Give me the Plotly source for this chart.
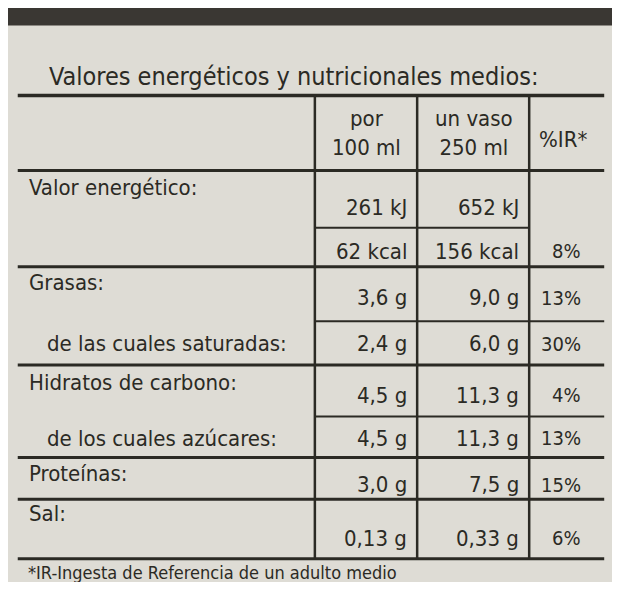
import plotly.graph_objects as go

title = "Valores energéticos y nutricionales medios:"
headers = [("por<br>100 ml", 368, 128), ("un vaso<br>250 ml", 478, 128), ("%IR*", 570, 135)]
labels = [("Valor energético:", 185), ("Grasas:", 282), ("de las cuales saturadas:", 345),
          ("Hidratos de carbono:", 385), ("de los cuales azúcares:", 442),
          ("Proteínas:", 478), ("Sal:", 520)]
label_x = [20, 20, 38, 20, 38, 20, 20]
row_y = [205, 250, 298, 345, 398, 442, 490, 545]
per100 = ["261 kJ", "62 kcal", "3,6 g", "2,4 g", "4,5 g", "4,5 g", "3,0 g", "0,13 g"]
vaso = ["652 kJ", "156 kcal", "9,0 g", "6,0 g", "11,3 g", "11,3 g", "7,5 g", "0,33 g"]
ir = ["", "8%", "13%", "30%", "4%", "13%", "15%", "6%"]
footnote = "*IR-Ingesta de Referencia de un adulto medio"

ink = "#2b2a24"
font = "DejaVu Sans Condensed, Liberation Sans Narrow, Arial Narrow, sans-serif"
fig = go.Figure()
ann = []
ann.append(dict(x=40, y=70, text=title, xanchor="left", font=dict(size=25)))
for t, x, y in headers:
    ann.append(dict(x=x, y=y, text=t, font=dict(size=22)))
for (t, y), x in zip(labels, label_x):
    ann.append(dict(x=x, y=y, text=t, xanchor="left", font=dict(size=22)))
for i, y in enumerate(row_y):
    ann.append(dict(x=412, y=y, text=per100[i], xanchor="right", font=dict(size=22)))
    ann.append(dict(x=527, y=y, text=vaso[i], xanchor="right", font=dict(size=22)))
    if ir[i]:
        ann.append(dict(x=590, y=y, text=ir[i], xanchor="right", font=dict(size=20)))
ann.append(dict(x=18, y=580, text=footnote, xanchor="left", font=dict(size=18)))
for a in ann:
    a.update(showarrow=False, xref="x", yref="y", yanchor="middle")
    a["font"].update(color=ink, family=font)

shapes = [dict(type="rect", x0=0, x1=620, y0=0, y1=18, fillcolor="#3a3733", line_width=0)]
def hl(y, x0=10, x1=612, w=3):
    shapes.append(dict(type="line", x0=x0, x1=x1, y0=y, y1=y, line=dict(color=ink, width=w)))
def vl(x, y0, y1, w=2.5):
    shapes.append(dict(type="line", x0=x, x1=x, y0=y0, y1=y1, line=dict(color=ink, width=w)))
hl(90, w=3.5)
hl(167)
hl(226, 315, 535, 2)
hl(266)
hl(322, 315, 612, 2)
hl(367)
hl(420, 315, 612, 2)
hl(462)
hl(505)
hl(566)
vl(315, 90, 566)
vl(420, 90, 566)
vl(535, 90, 566)

fig.update_layout(width=604, height=574, margin=dict(l=0, r=0, t=0, b=0),
                  paper_bgcolor="#dedcd5", plot_bgcolor="#dedcd5",
                  annotations=ann, shapes=shapes, showlegend=False,
                  xaxis=dict(range=[0, 620], visible=False, fixedrange=True),
                  yaxis=dict(range=[590, 0], visible=False, fixedrange=True))
fig.write_html("out.html")
